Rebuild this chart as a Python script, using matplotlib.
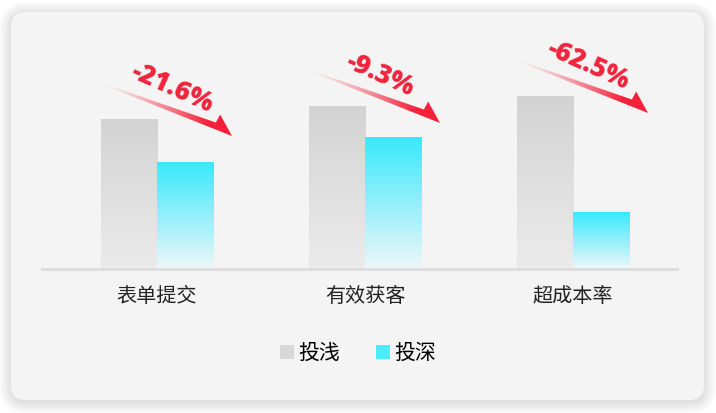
import matplotlib.pyplot as plt
import numpy as np
from matplotlib.patches import FancyBboxPatch, Patch, Polygon
from matplotlib.colors import to_rgb

plt.rcParams['font.family'] = ['Noto Sans CJK SC', 'DejaVu Sans']

# 数据
categories = ['表单提交', '有效获客', '超成本率']
shallow = [150, 163, 173]      # 投浅
deep = [107, 132, 57]          # 投深
changes = ['-21.6%', '-9.3%', '-62.5%']
series_names = ['投浅', '投深']

W, H = 716, 413
fig = plt.figure(figsize=(W / 100, H / 100), dpi=100)
fig.patch.set_facecolor('white')

# 背景卡片
bg = fig.add_axes([0, 0, 1, 1], zorder=0)
bg.set_xlim(0, W)
bg.set_ylim(H, 0)
bg.axis('off')
for k in range(10):
    p = 1 + k * 1.2
    bg.add_patch(FancyBboxPatch((11 - p, 12 - p + 2), 693 + 2 * p, 388 + 2 * p,
                                boxstyle=f'round,pad=0,rounding_size={15 + p}',
                                facecolor='black', edgecolor='none', alpha=0.01))
bg.add_patch(FancyBboxPatch((11, 12), 693, 388, boxstyle='round,pad=0,rounding_size=15',
                            facecolor='#f4f4f4', edgecolor='none'))

# 主图
ax = fig.add_axes([42 / W, 144 / H, 635 / W, 200 / H], zorder=1)
ax.patch.set_alpha(0)
x = np.arange(len(categories))
w = 0.27


def grad(c_top, c_bot, n=200):
    a, b = np.array(to_rgb(c_top)), np.array(to_rgb(c_bot))
    t = np.linspace(0, 1, n)[:, None]
    return (a * (1 - t) + b * t)[:, None, :]


bars1 = ax.bar(x - w / 2, shallow, w, color='#d8d8d8')
bars2 = ax.bar(x + w / 2, deep, w, color='#4eeafa')
for bars, top, bot in [(bars1, '#d3d3d3', '#ebebeb'), (bars2, '#38e9fb', '#eef7f9')]:
    for b in bars:
        im = ax.imshow(grad(top, bot), extent=[b.get_x(), b.get_x() + b.get_width(), 0, b.get_height()],
                       aspect='auto', origin='upper', zorder=2)
        im.set_clip_path(b)
        b.set_facecolor('none')

ax.set_xlim(-0.553, 2.5)
ax.set_ylim(0, 200)
for s in ['top', 'right', 'left']:
    ax.spines[s].set_visible(False)
ax.spines['bottom'].set_color('#dcdcdc')
ax.spines['bottom'].set_linewidth(2)
ax.set_yticks([])
ax.set_xticks(x)
ax.set_xticklabels(categories, fontsize=14.5, color='#222222')
ax.tick_params(axis='x', length=0, pad=12)

# 箭头与降幅
ov = fig.add_axes([0, 0, 1, 1], zorder=3)
ov.set_xlim(0, W)
ov.set_ylim(H, 0)
ov.set_autoscale_on(False)
ov.axis('off')


def to_px(xd, yd):
    return ov.transData.inverted().transform(ax.transData.transform((xd, yd)))


red = np.array(to_rgb('#f5213a'))
for i, lab in enumerate(changes):
    cx, top = to_px(x[i], shallow[i])
    T = np.array([cx - 57, top - 36])
    P = np.array([cx + 75, top + 17])
    L = np.hypot(*(P - T))
    u = (P - T) / L
    nu = np.array([u[1], -u[0]])
    loc = [(0, 0.6), (L - 20, 6.5), (L - 19, 15.5), (L, 0), (0, -0.6)]
    pts = np.array([T + s * u + t * nu for s, t in loc])
    poly = Polygon(pts, closed=True, facecolor='none', edgecolor='none')
    ov.add_patch(poly)
    x0, x1 = pts[:, 0].min() - 2, pts[:, 0].max() + 2
    y0, y1 = pts[:, 1].min() - 2, pts[:, 1].max() + 2
    gx, gy = np.meshgrid(np.linspace(x0, x1, 300), np.linspace(y0, y1, 150))
    s = ((gx - T[0]) * u[0] + (gy - T[1]) * u[1]) / L
    alpha = np.clip(s / 0.8, 0, 1) ** 1.3
    img = np.zeros(gx.shape + (4,))
    img[..., :3] = red
    img[..., 3] = alpha
    im = ov.imshow(img, extent=(x0, x1, y1, y0), origin='upper', aspect='auto', zorder=4)
    im.set_clip_path(poly)
    ov.text(cx + 15, top - 31, lab, rotation=-24, rotation_mode='anchor', ha='center', va='center',
            fontsize=19, fontweight=800, color='#f0233b', family=['Open Sans', 'DejaVu Sans'], zorder=5)

# 图例
handles = [Patch(facecolor='#d8d8d8', edgecolor='none'), Patch(facecolor='#4aecfc', edgecolor='none')]
fig.legend(handles, series_names, loc='center', bbox_to_anchor=(0.5, 1 - 353 / H), ncol=2, frameon=False,
           fontsize=15, handlelength=0.68, handleheight=0.68, handletextpad=0.2, columnspacing=1.75)

fig.savefig('out.png', dpi=100)
